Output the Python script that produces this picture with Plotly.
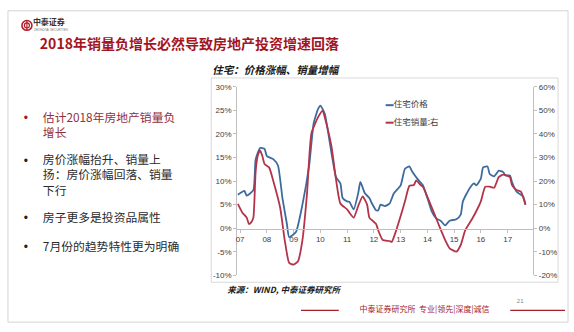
import plotly.graph_objects as go

# ---- data: 住宅价格 (left axis, %) ----
price_months = [
    "2006-12", "2007-03", "2007-04", "2007-07", "2007-08", "2007-10", "2007-12",
    "2008-01", "2008-04", "2008-06", "2008-08", "2008-10", "2008-11", "2009-02",
    "2009-05", "2009-08", "2009-10", "2009-12", "2010-01", "2010-03", "2010-06",
    "2010-08", "2010-10", "2010-11", "2011-01", "2011-02", "2011-04", "2011-06",
    "2011-07", "2011-09", "2011-11", "2011-12", "2012-02", "2012-03", "2012-04",
    "2012-06", "2012-08", "2012-10", "2013-01", "2013-03", "2013-05", "2013-06",
    "2013-09", "2013-11", "2014-01", "2014-03", "2014-05", "2014-07", "2014-09",
    "2014-11", "2015-02", "2015-04", "2015-05", "2015-08", "2015-10", "2015-11",
    "2016-01", "2016-02", "2016-04", "2016-05", "2016-07", "2016-09", "2016-11",
    "2016-12", "2017-02", "2017-03", "2017-05", "2017-06", "2017-08", "2017-09",
]
price_values = [
    7.1, 7.9, 6.9, 8.1, 14.6, 17.0, 16.8,
    15.3, 14.6, 13.3, 6.4, 0.9, -1.9, -0.8,
    5.0, 13.3, 22.2, 25.3, 26.0, 24.3, 16.0,
    10.9, 9.5, 6.4, 5.7, 5.6, 4.0, 7.4,
    9.8, 7.4, 6.4, 5.4, 3.8, 3.8, 5.0,
    4.7, 5.2, 7.4, 9.1, 12.6, 13.1, 12.2,
    10.2, 9.1, 6.4, 3.6, 2.1, 1.6, 0.6,
    1.6, 1.9, 2.9, 5.7, 8.5, 9.5, 9.1,
    10.5, 12.9, 13.1, 11.5, 11.0, 12.2, 11.9,
    11.2, 11.2, 9.8, 7.8, 7.4, 6.7, 5.0,
]

# ---- data: 住宅销量 (right axis, %) ----
sales_months = [
    "2006-12", "2007-02", "2007-04", "2007-05", "2007-06", "2007-07", "2007-08",
    "2007-09", "2007-10", "2007-11", "2007-12", "2008-02", "2008-04", "2008-07",
    "2008-09", "2008-11", "2009-01", "2009-03", "2009-05", "2009-07", "2009-09",
    "2009-12", "2010-02", "2010-03", "2010-06", "2010-08", "2010-10", "2011-01",
    "2011-02", "2011-04", "2011-06", "2011-08", "2011-10", "2011-11", "2012-02",
    "2012-03", "2012-05", "2012-08", "2012-09", "2012-11", "2013-01", "2013-03",
    "2013-05", "2013-07", "2013-08", "2013-10", "2013-11", "2014-02", "2014-04",
    "2014-06", "2014-09", "2014-11", "2015-02", "2015-04", "2015-06", "2015-09",
    "2015-11", "2016-01", "2016-03", "2016-05", "2016-07", "2016-09", "2016-11",
    "2017-02", "2017-03", "2017-05", "2017-07", "2017-09",
]
sales_values = [
    10.3, 6.6, 4.5, 1.8, 2.5, 4.5, 24.0,
    31.0, 33.0, 30.6, 27.2, 25.8, 19.7, 8.7,
    -5.0, -14.7, -15.4, -14.0, -5.0, 14.1, 40.3,
    47.1, 49.9, 47.1, 34.8, 21.0, 10.5, 8.0,
    6.6, 4.5, 9.4, 13.5, 10.0, 4.5, 1.8,
    -0.9, -5.0, -5.4, -5.8, -0.9, 5.2, 11.4,
    18.0, 18.3, 20.3, 18.3, 17.6, 11.0, 6.5,
    1.8, -5.0, -8.5, -9.9, -7.1, -0.9, 3.8,
    7.3, 11.4, 17.6, 17.6, 17.2, 21.7, 22.7,
    21.7, 18.3, 16.2, 15.5, 10.0,
]

year_ticks = [f"{y}-01-01" for y in range(2007, 2018)]
year_labels = [f"{y % 100:02d}" for y in range(2007, 2018)]
left_ticks = [-10, -5, 0, 5, 10, 15, 20, 25, 30]
right_ticks = [-20, -10, 0, 10, 20, 30, 40, 50, 60]

series_names = ["住宅价格", "住宅销量:右"]
series_colors = ["#3c6c9e", "#b3344a"]

title_text = "<b>2018年销量负增长必然导致房地产投资增速回落</b>"
chart_title = "<b><i>住宅：价格涨幅、销量增幅</i></b>"
source_text = "<b><i>来源：WIND, 中泰证券研究所</i></b>"
footer_text = "中泰证券研究所  专业|领先|深度|诚信"
page_number = "21"

bullets = [
    ["估计2018年房地产销量负", "增长"],
    ["房价涨幅抬升、销量上", "扬：房价涨幅回落、销量", "下行"],
    ["房子更多是投资品属性"],
    ["7月份的趋势特性更为明确"],
]
bullet_colors = ["#93303a", "#2b2b2b", "#2b2b2b", "#2b2b2b"]

# ---- page geometry (pixels) ----
W, H = 574, 332
PL, PR, PT, PB = 236, 533, 85, 279      # chart plot box
ZERO_Y = 231                             # pixel row of the 0% line

CJK = "Noto Sans CJK SC"
LAT = "Liberation Sans"

fig = go.Figure()
fig.add_trace(go.Scatter(
    x=price_months, y=price_values, mode="lines", name=series_names[0],
    line=dict(color=series_colors[0], width=1.8, shape="spline", smoothing=0.5),
    xaxis="x", yaxis="y", showlegend=False, hoverinfo="skip",
))
fig.add_trace(go.Scatter(
    x=sales_months, y=sales_values, mode="lines", name=series_names[1],
    line=dict(color=series_colors[1], width=1.8, shape="spline", smoothing=0.5),
    xaxis="x", yaxis="y2", showlegend=False, hoverinfo="skip",
))


def label(x, y, text, size, color, family=CJK, pos="middle right"):
    """Page text on the full-page pixel subplot (x2 / y3)."""
    fig.add_trace(go.Scatter(
        x=[x], y=[y], mode="text", text=[text], textposition=pos,
        textfont=dict(family=family, size=size, color=color),
        xaxis="x2", yaxis="y3", showlegend=False, hoverinfo="skip",
    ))


# logo text
label(31, 20, "<b>中泰证券</b>", 8, "#333333")
label(32, 27, "ZHONGTAI SECURITIES", 3, "#777777", family=LAT)
# title
label(38, 43, title_text, 14, "#a3151f")
# bullet list: each item is one multi-line text block, first line at y0
bullet_first_y = [118, 162, 221, 251]
BODY = 11.8
LINE = BODY * 1.3
for lines, color, y0 in zip(bullets, bullet_colors, bullet_first_y):
    dot_color = "#a3151f" if color == "#93303a" else "#222222"
    label(24, y0, "•", 12, dot_color, family=LAT, pos="middle center")
    yc = y0 + LINE * (len(lines) - 1) / 2
    label(41, yc, "<br>".join(lines), BODY, color)
# chart subtitle and source
label(211, 69, chart_title, 10.5, "#1a1a1a")
label(226, 295, source_text, 8.5, "#1a1a1a")
# legend
for i, name in enumerate(series_names):
    label(393, 104 + 18 * i, name, 8.5, "#404040")
# footer
label(424, 315, footer_text, 8, "#a3202c", pos="middle center")
label(520, 306, page_number, 6, "#888888", family=LAT, pos="middle center")

axis_common = dict(
    showgrid=False, zeroline=False, showline=True, linecolor="#bfbfbf",
    linewidth=1, ticks="outside", ticklen=3, tickcolor="#bfbfbf",
    tickfont=dict(family=LAT, size=8, color="#404040"),
)
x_dom = [PL / W, PR / W]
y_dom = [(H - PB) / H, (H - PT) / H]

fig.update_layout(
    width=W, height=H, autosize=False,
    margin=dict(l=0, r=0, t=0, b=0, pad=0),
    paper_bgcolor="white", plot_bgcolor="rgba(0,0,0,0)",
    xaxis=dict(
        type="date", range=["2006-11-22", "2017-12-15"], domain=x_dom,
        tickmode="array", tickvals=year_ticks, ticktext=year_labels,
        anchor="free", position=(H - ZERO_Y) / H, **axis_common,
    ),
    yaxis=dict(range=[-10, 30], domain=y_dom, anchor="x", tickmode="array",
               tickvals=left_ticks, ticktext=[f"{v}%" for v in left_ticks],
               **axis_common),
    yaxis2=dict(range=[-20, 60], tickmode="array", tickvals=right_ticks,
                ticktext=[f"{v}%" for v in right_ticks],
                overlaying="y", side="right", anchor="x", **axis_common),
    # full-page subplot in pixel units for text and page decoration
    xaxis2=dict(range=[0, W], domain=[0, 1], anchor="y3", visible=False,
                fixedrange=True),
    yaxis3=dict(range=[H, 0], domain=[0, 1], anchor="x2", visible=False,
                fixedrange=True),
)

shapes = []
pix = dict(xref="x2", yref="y3")
# slide frame
shapes.append(dict(type="rect", x0=6, x1=568, y0=7, y1=327,
                   line=dict(color="#d4d4d4", width=1), layer="below", **pix))
# chart frame
shapes.append(dict(type="rect", x0=210, x1=558, y0=76, y1=286,
                   line=dict(color="#d9d9d9", width=1), layer="below", **pix))
# logo mark
shapes.append(dict(type="circle", x0=20, x1=30, y0=17, y1=27,
                   line=dict(color="#b11f2a", width=1.6), **pix))
shapes.append(dict(type="circle", x0=22.5, x1=27.5, y0=19.5, y1=24.5,
                   line=dict(color="#b11f2a", width=1.2), **pix))
shapes.append(dict(type="line", x0=25, x1=25, y0=17, y1=27,
                   line=dict(color="#b11f2a", width=1.2), **pix))
# legend keys
for i, color in enumerate(series_colors):
    yy = 104 + 18 * i
    shapes.append(dict(type="line", x0=385, x1=393, y0=yy, y1=yy,
                       line=dict(color=color, width=2), **pix))
# footer rules
for x0, x1 in [(300, 338), (510, 565)]:
    shapes.append(dict(type="line", x0=x0, x1=x1, y0=315, y1=315,
                       line=dict(color="#a3202c", width=1.3), **pix))

fig.update_layout(shapes=shapes)
fig.write_html("out.html")
